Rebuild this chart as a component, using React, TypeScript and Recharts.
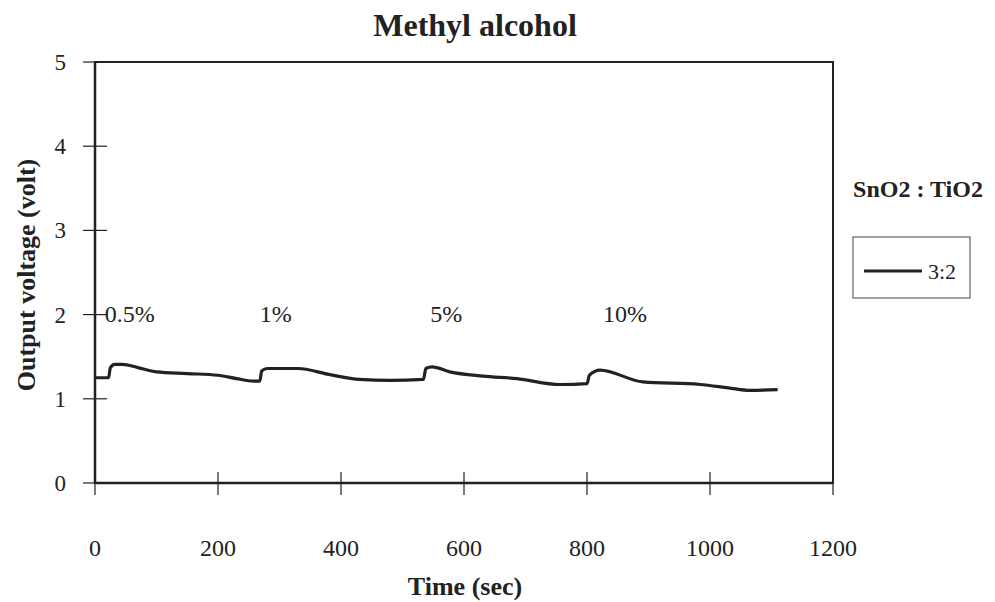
import React from 'react';
import {
  LineChart,
  Line,
  XAxis,
  YAxis,
  ReferenceArea,
  ReferenceDot,
} from 'recharts';

/**
 * Methyl alcohol response — SnO2 : TiO2 (3:2) sensor output over time.
 */

const TIME_SEC = [
  0, 22, 25, 32, 45, 70, 100, 150, 200, 230, 258, 268, 271, 280, 330, 380, 430, 480,
  534, 538, 548, 577, 631, 686, 756, 800, 804, 821, 891, 984, 1030, 1065, 1110,
];
const VOLTAGE_32 = [
  1.25, 1.25, 1.37, 1.41, 1.41, 1.37, 1.32, 1.3, 1.28, 1.24, 1.21, 1.21, 1.33, 1.36, 1.36, 1.29, 1.23, 1.22,
  1.23, 1.36, 1.38, 1.32, 1.27, 1.24, 1.17, 1.18, 1.28, 1.34, 1.2, 1.17, 1.13, 1.1, 1.11,
];

const X_TICKS = [0, 200, 400, 600, 800, 1000, 1200];
const Y_TICKS = [0, 1, 2, 3, 4, 5];

const CONC_LABELS = ['0.5%', '1%', '5%', '10%'];
const CONC_TIMES = [16, 268, 545, 826];
const CONC_LEVEL = 1.91;

const SERIF = '"Liberation Serif", "Times New Roman", serif';
const INK = '#222';

const data = TIME_SEC.map((t, i) => ({ t, v: VOLTAGE_32[i] }));

function XTick({ x, y, payload }: any) {
  return (
    <g>
      <line x1={x} x2={x} y1={y - 11} y2={y + 12} stroke={INK} strokeWidth={1.2} />
      <text x={x} y={y + 73} textAnchor="middle" fontFamily={SERIF} fontSize={24} fill={INK}>
        {payload.value}
      </text>
    </g>
  );
}

function YTick({ x, y, payload }: any) {
  return (
    <g>
      <line x1={x - 12} x2={x + 12} y1={y} y2={y} stroke={INK} strokeWidth={1.2} />
      <text x={x - 29} y={y + 8} textAnchor="end" fontFamily={SERIF} fontSize={23} fill={INK}>
        {payload.value}
      </text>
    </g>
  );
}

export default function App() {
  return (
    <div style={{ position: 'absolute', left: 0, top: 0, width: 995, height: 602, background: '#fff' }}>
      <LineChart width={995} height={602} data={data} margin={{ top: 62, right: 162, left: 0, bottom: 0 }}>
        <ReferenceArea x1={0} x2={1200} y1={0} y2={5} fill="none" stroke={INK} strokeWidth={2} />
        <XAxis
          dataKey="t"
          type="number"
          domain={[0, 1200]}
          ticks={X_TICKS}
          height={119}
          tickSize={0}
          tickMargin={0}
          tickLine={false}
          axisLine={{ stroke: INK, strokeWidth: 2.5 }}
          tick={<XTick />}
          interval={0}
        />
        <YAxis
          type="number"
          domain={[0, 5]}
          ticks={Y_TICKS}
          width={95}
          tickSize={0}
          tickMargin={0}
          tickLine={false}
          axisLine={{ stroke: INK, strokeWidth: 2.5 }}
          tick={<YTick />}
          interval={0}
        />
        <Line
          type="monotone"
          dataKey="v"
          stroke={INK}
          strokeWidth={3.2}
          dot={false}
          isAnimationActive={false}
        />
        {CONC_LABELS.map((label, i) => (
          <ReferenceDot
            key={label}
            x={CONC_TIMES[i]}
            y={CONC_LEVEL}
            r={0}
            shape={(p: any) => (
              <text x={p.cx} y={p.cy} fontFamily={SERIF} fontSize={24} fill={INK}>
                {label}
              </text>
            )}
          />
        ))}
        <text
          x={27}
          y={275}
          transform="rotate(-90 27 275)"
          dy={8}
          textAnchor="middle"
          fontFamily={SERIF}
          fontWeight="bold"
          fontSize={26}
          fill={INK}
        >
          Output voltage (volt)
        </text>
        <text x={465} y={595} textAnchor="middle" fontFamily={SERIF} fontWeight="bold" fontSize={26} fill={INK}>
          Time (sec)
        </text>
        <text x={475} y={36} textAnchor="middle" fontFamily={SERIF} fontWeight="bold" fontSize={32} fill={INK}>
          Methyl alcohol
        </text>
        <text x={918} y={197} textAnchor="middle" fontFamily={SERIF} fontWeight="bold" fontSize={24} fill={INK}>
          SnO2 : TiO2
        </text>
        <rect x={853} y={237} width={117} height={61} fill="none" stroke="#444" strokeWidth={1} />
        <line x1={864} x2={922} y1={271} y2={271} stroke={INK} strokeWidth={3} />
        <text x={928} y={279} fontFamily={SERIF} fontSize={22} fill={INK}>
          3:2
        </text>
      </LineChart>
    </div>
  );
}
